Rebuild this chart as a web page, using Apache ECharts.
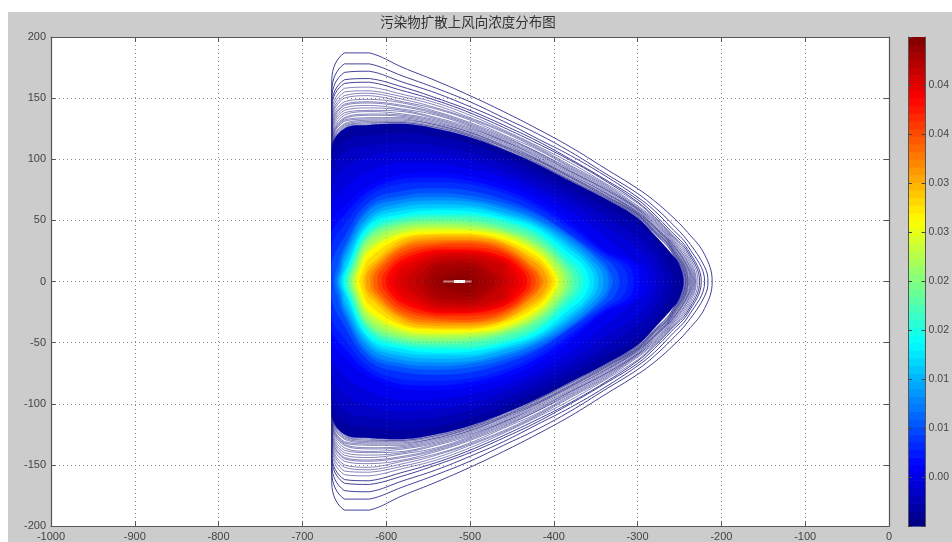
<!DOCTYPE html>
<html><head><meta charset="utf-8">
<style>
html,body{margin:0;padding:0;background:#fff;width:952px;height:542px;overflow:hidden}
#bg{position:absolute;left:8px;top:12px;width:944px;height:530px;background:#cccccc}
#c{position:absolute;left:0;top:0;width:952px;height:542px;filter:blur(0.6px)}
</style>
<script src="https://cdn.jsdelivr.net/npm/echarts@6/dist/echarts.min.js"></script>
</head><body><div id="bg"></div><div id="c"></div>
<script>
const titleText = '污染物扩散上风向浓度分布图';
const barLabels = ['0.00','0.01','0.01','0.02','0.02','0.03','0.03','0.04','0.04'];
const barMax = 0.0499;
const stations = [-650,-620,-580,-540,-500,-460,-420,-380,-340,-300,-280,-260,-240,-220];

// outer contours, line only: height at x=-665, heights at stations, tip x
const lineEdge = [165,156,150,145,142,138,135,133,131,129,127,125,123,122,120,118,117,115,114,113,112,111,110,109];
const lineTip = [-211,-216,-220,-224,-226,-228,-230,-231,-232,-233,-234,-235,-236,-237,-238,-239,-240,-240,-241,-242,-242,-243,-243,-244];
const lineHeights = [
 [187,187,175,164,152,139,125,110,93,76,66,54,40,22],
 [178,178,168,158,147,134,121,106,89,72,61,48,33,12],
 [171,172,163,154,143,131,117,103,87,69,58,44,29],
 [165,166,159,150,140,128,115,100,84,67,55,41,26],
 [162,163,156,148,138,126,113,99,83,65,53,39,24],
 [158,159,153,146,136,124,111,97,81,64,52,38,22],
 [155,156,151,144,134,123,110,95,80,62,51,37,20],
 [152,154,149,142,133,122,109,94,79,61,50,36,18],
 [150,152,147,141,132,120,108,93,78,60,49,35,16],
 [147,149,146,139,130,119,106,92,77,60,48,34,15],
 [145,147,144,138,129,118,106,91,76,59,47,33,13],
 [144,146,143,137,128,117,105,90,76,59,46,32,12],
 [142,144,141,136,127,116,104,90,75,58,45,32,11],
 [140,142,140,134,126,115,103,89,74,57,45,31,10],
 [138,140,139,133,125,115,102,88,73,57,44,30,8],
 [136,139,137,132,124,114,101,87,73,56,44,30],
 [134,137,136,131,123,113,100,86,72,56,43,29],
 [133,136,135,130,122,112,100,86,71,55,42,28],
 [132,134,134,129,122,111,99,85,71,55,42,28],
 [131,133,133,128,121,111,99,85,70,55,41,27],
 [129,132,132,128,120,110,98,84,70,54,41,27],
 [128,131,131,127,120,110,97,83,69,54,40,26],
 [127,130,130,126,119,109,97,83,69,53,40,25],
 [126,129,130,126,119,108,96,82,68,53,39,25]
];

// filled contours: jet position, left closing x (null when cut by x=-665), height at x=-665, heights at stations, tip x, heights just inside each end
const fillLevel = [.03,.05,.07,.09,.11,.13,.15,.17,.20,.23,.26,.29,.32,.35,.38,.41,.44,.47,.50,.53,.56,.60,.63,.66,.69,.72,.75,.78,.81,.84,.87,.885,.90,.915,.93,.945,.96,.97,.98,.99];
const fillLeft = [null,null,null,null,null,null,null,null,null,-662,-659,-657,-655,-653,-651,-649,-647,-645,-643,-641,-639,-636,-634,-631,-627,-624,-619,-615,-610,-605,-600,-595,-590,-583,-575,-565,-555,-548,-540,-530];
const fillEdge = [108,96,84,72,60,48,38,28,14,0,0,0,0,0,0,0,0,0,0,0,0,0,0,0,0,0,0,0,0,0,0,0,0,0,0,0,0,0,0,0];
const fillTip = [-245,-258,-268,-278,-288,-298,-305,-312,-322,-330,-335,-341,-347,-352,-358,-364,-370,-376,-381,-385,-389,-394,-396,-400,-404,-408,-413,-417,-422,-427,-432,-437,-442,-448,-455,-462,-470,-480,-490,-497];
const leftNear = [0,0,0,0,0,0,0,0,0,12,11,11,10,10,10,10,10,10,10,10,10,10,10,10,10,9,9,9,9,8,8,7,7,6,6,5,4,4,3,3];
const rightNear = [15,14,14,14,14,14,13,12,12,11,12,12,12,12,12,11,11,11,11,11,11,10,10,10,10,10,9,9,9,9,9,8,8,7,7,6,6,5,4,3];
const fillHeights = [
 [125,128,129,125,118,108,96,82,68,52,38,23],
 [115,119,121,118,112,102,90,76,61,46,32],
 [105,111,113,111,105,96,84,70,54,36,22],
 [92,102,106,104,99,90,78,64,46,27],
 [76,90,97,96,92,85,73,57,37,15],
 [62,78,88,89,86,79,67,49,26],
 [54,74,84,85,82,75,63,45,24],
 [46,70,80,81,79,72,60,42,22],
 [36,65,74,76,74,67,56,38,19],
 [28,61,70,72,70,64,54,37,15],
 [24,58,67,69,67,61,51,35],
 [20,54,64,66,65,59,49,32],
 [15,51,61,63,62,56,47,29],
 [null,48,58,60,60,54,45,26],
 [null,46,55,58,57,52,43,22],
 [null,43,53,55,55,50,40,18],
 [null,40,51,53,53,48,38,13],
 [null,38,49,51,50,45,35],
 [null,36,47,49,48,43,32],
 [null,33,45,47,46,41,30],
 [null,30,43,45,44,40,28],
 [null,26,40,43,42,38,25],
 [null,24,38,41,41,36,23],
 [null,19,36,39,39,34,20],
 [null,13,34,38,38,32,17],
 [null,null,31,36,36,31,14],
 [null,null,29,34,34,29,10],
 [null,null,27,32,33,27],
 [null,null,24,30,31,25],
 [null,null,21,28,28,23],
 [null,null,18,26,26,20],
 [null,null,15,25,25,19],
 [null,null,12,23,24,17],
 [null,null,null,21,22,15],
 [null,null,null,19,20,12],
 [null,null,null,16,18],
 [null,null,null,13,15],
 [null,null,null,7,12],
 [null,null,null,null,9],
 []
];
const coreOuter = [[-532,0],[-498,0]];
const coreInner = [[-519,0],[-506,0]];

function jet(t){
  const c=v=>Math.round(255*Math.max(0,Math.min(1,v)));
  return 'rgb('+c(1.5-Math.abs(4*t-3))+','+c(1.5-Math.abs(4*t-2))+','+c(1.5-Math.abs(4*t-1))+')';
}
function outline(left,edge,heights,tip,lNear,rNear){
  const up=[];
  if(left===null) up.push([-665,edge]);
  else if(lNear) up.push([left+4,lNear]);
  heights.forEach((h,i)=>{ if(h!==null&&h!==undefined) up.push([stations[i],h]); });
  if(rNear) up.push([tip-6,rNear]);
  const down=up.slice().reverse().map(p=>[p[0],-p[1]]);
  const pts=[];
  if(left!==null) pts.push([left,0]);
  return pts.concat(up,[[tip,0]],down);
}
const shapes=[];
lineHeights.forEach((h,i)=>shapes.push({pts:outline(null,lineEdge[i],h,lineTip[i]),fill:'none',stroke:i<5?'#2c2c8c':'#33338f',w:i<5?0.9:0.6}));
fillHeights.forEach((h,i)=>{const col=jet(fillLevel[i]);shapes.push({pts:outline(fillLeft[i],fillEdge[i],h,fillTip[i],leftNear[i],rightNear[i]),fill:col,stroke:col,w:0.6});});

const barSteps=[];
for(let i=0;i<64;i++) barSteps.push(i);

const labelStyle={color:'#444',fontSize:11,fontFamily:'"Liberation Sans",Arial,sans-serif'};
const axisCol='#555';
const gridDots={show:true,lineStyle:{color:'#909090',type:[1,3],width:1}};
const overDots={show:true,lineStyle:{color:'rgba(120,120,120,0.3)',type:[1,3],width:1}};
const tickIn={show:true,inside:true,length:5,lineStyle:{color:axisCol,width:1}};
const chart=echarts.init(document.getElementById('c'),null,{renderer:'canvas'});
chart.setOption({
  animation:false,
  backgroundColor:'transparent',
  title:{text:titleText,left:463,top:10,textAlign:'center',textStyle:{fontSize:13.5,fontWeight:'normal',color:'#333',fontFamily:'"Noto Sans CJK SC",sans-serif'}},
  grid:[{left:51,right:63,top:37,bottom:16,backgroundColor:'#fff',show:true,borderWidth:0},
        {left:908,right:21.5,top:37,bottom:16}],
  xAxis:[
   {type:'value',min:-1000,max:0,interval:100,position:'bottom',gridIndex:0,axisLine:{onZero:false,lineStyle:{color:axisCol,width:1.2}},axisTick:tickIn,axisLabel:Object.assign({margin:5,formatter:v=>String(v)},labelStyle),splitLine:gridDots},
   {type:'value',min:-1000,max:0,interval:100,position:'top',gridIndex:0,axisLine:{onZero:false,lineStyle:{color:axisCol,width:1.2}},axisTick:tickIn,axisLabel:{show:false},splitLine:overDots,z:5},
   {type:'value',min:0,max:1,gridIndex:1,show:false}
  ],
  yAxis:[
   {type:'value',min:-200,max:200,interval:50,position:'left',gridIndex:0,axisLine:{onZero:false,lineStyle:{color:axisCol,width:1.2}},axisTick:tickIn,axisLabel:Object.assign({margin:5},labelStyle),splitLine:gridDots},
   {type:'value',min:-200,max:200,interval:50,position:'right',gridIndex:0,axisLine:{onZero:false,lineStyle:{color:axisCol,width:1.2}},axisTick:tickIn,axisLabel:{show:false},splitLine:overDots,z:5},
   {type:'value',min:0,max:barMax,interval:0.005,position:'right',gridIndex:1,axisLine:{onZero:false,lineStyle:{color:axisCol}},axisTick:{show:true,inside:true,length:4,lineStyle:{color:'#444'}},splitLine:{show:false},z:5,
    axisLabel:Object.assign({margin:3,showMaxLabel:false,formatter:v=>barLabels[Math.round(v/0.005)-1]||''},labelStyle,{fontSize:10.5})},
   {type:'value',min:0,max:barMax,interval:0.005,position:'left',gridIndex:1,axisLine:{onZero:false,lineStyle:{color:axisCol}},axisTick:{show:true,inside:true,length:4,lineStyle:{color:'#444'}},axisLabel:{show:false},splitLine:{show:false},z:5}
  ],
  series:[
   {type:'custom',coordinateSystem:'cartesian2d',xAxisIndex:0,yAxisIndex:0,z:2,silent:true,clip:true,
    data:shapes.map((s,i)=>[i]),
    renderItem(p,api){
      const s=shapes[p.dataIndex];
      const pts=s.pts.map(q=>api.coord(q));
      const xs=pts.map(q=>q[0]),ys=pts.map(q=>q[1]);
      const box=[[Math.min(...xs),Math.min(...ys)],[Math.max(...xs),Math.max(...ys)]];
      return {type:'polygon',shape:{points:pts,smooth:0.4,smoothConstraint:box},
        style:{fill:s.fill==='none'?null:s.fill,stroke:s.stroke,lineWidth:s.w}};
    }},
   {type:'line',xAxisIndex:0,yAxisIndex:0,z:3,silent:true,symbol:'none',data:coreOuter,lineStyle:{color:'rgba(255,215,215,0.6)',width:2}},
   {type:'line',xAxisIndex:0,yAxisIndex:0,z:3,silent:true,symbol:'none',data:coreInner,lineStyle:{color:'#ffffff',width:3}},
   {type:'custom',coordinateSystem:'cartesian2d',xAxisIndex:2,yAxisIndex:2,z:2,silent:true,
    data:barSteps.map(i=>[i]),
    renderItem(p,api){
      const i=p.dataIndex;
      const a=api.coord([0,barMax*i/64]),b=api.coord([1,barMax*(i+1)/64]);
      return {type:'rect',shape:{x:a[0],y:b[1],width:b[0]-a[0],height:a[1]-b[1]+0.6},style:{fill:jet((i+0.5)/64)}};
    }}
  ]
});
</script></body></html>
